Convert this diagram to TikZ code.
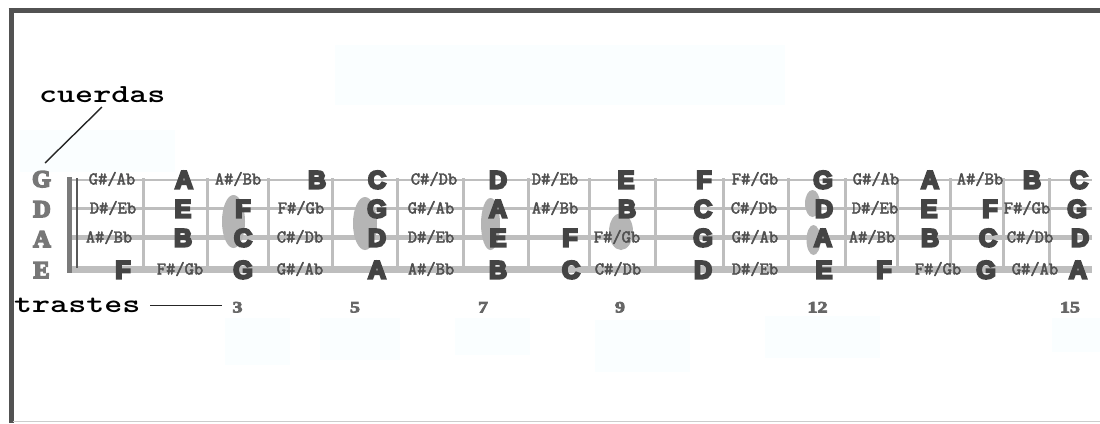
\documentclass[tikz,border=0pt]{standalone}
\usepackage{fontspec}
\newfontfamily\notefont{Liberation Sans}[FakeBold=9]
\newfontfamily\labfont{Liberation Serif}[FakeBold=7]
\newfontfamily\numfont{Liberation Serif}[FakeBold=4]
\newfontfamily\smallfont{lmmono12-regular}[Extension=.otf, FakeBold=2.5]
\definecolor{framec}{HTML}{525252}
\definecolor{linec}{HTML}{BEBEBE}
\definecolor{notec}{HTML}{444444}
\definecolor{smallc}{HTML}{505050}
\definecolor{labc}{HTML}{777777}
\definecolor{numc}{HTML}{666666}
\definecolor{ovalc}{HTML}{B5B5B5}
\definecolor{ghostc}{HTML}{FAFEFF}
\definecolor{nutc}{HTML}{7A7A7A}
\begin{document}
\begin{tikzpicture}[x=1pt,y=-1pt,
  bignote/.style={font=\notefont\bfseries\fontsize{25}{25}\selectfont, text=notec, inner sep=0pt, anchor=base},
  smallnote/.style={font=\smallfont\fontsize{18}{18}\selectfont, text=smallc, inner sep=0pt, anchor=base},
  strlabel/.style={font=\labfont\bfseries\fontsize{24}{24}\selectfont, text=labc, inner sep=0pt, anchor=base},
  fretnum/.style={font=\numfont\bfseries\fontsize{16}{16}\selectfont, text=numc, inner sep=0pt, anchor=base},
  callout/.style={font=\ttfamily\bfseries\fontsize{26}{26}\selectfont, text=black, inner sep=0pt, anchor=base west},
  fretline/.style={draw=linec, line width=3pt},
  ghost/.style={fill=ghostc},
  leader/.style={draw=black!85, line width=1.4pt},
  marker/.style={fill=ovalc}
]
\useasboundingbox (0,0) rectangle (1100,423);
\fill[white] (0,0) rectangle (1100,423);
% faint background patches
\fill[ghost] (335,45) rectangle (785,105);
\fill[ghost] (20,130) rectangle (175,172);
\fill[ghost] (225,318) rectangle (290,365);
\fill[ghost] (320,318) rectangle (400,360);
\fill[ghost] (455,318) rectangle (530,355);
\fill[ghost] (595,320) rectangle (690,372);
\fill[ghost] (765,316) rectangle (880,358);
\fill[ghost] (1052,318) rectangle (1100,352);
% frame
\draw[framec, line width=4.5pt] (8.5,10.5) -- (1100,10.5);
\draw[framec, line width=5pt] (11,8.5) -- (11,423);
\draw[black!20, line width=1pt] (13,421.5) -- (1100,421.5);
% frets
\foreach \fx in {143,207,268,332,397,463,528,589,655,723,788,845,897,950,1003,1049}
  \draw[fretline] (\fx,178) -- (\fx,271);
% strings
\draw[linec, line width=2pt] (70,179.5) -- (1092,179.5);
\draw[linec, line width=3pt] (70,208.5) -- (1092,208.5);
\draw[linec, line width=5pt] (70,237.5) -- (1092,237.5);
\draw[linec, line width=6.5pt] (70,269.5) -- (1092,269.5);
% nut
\fill[nutc] (67,177) rectangle (72,273);
\draw[black!65, line width=1.5pt] (77,178) -- (77,268);
% position markers
\fill[marker] (233.5,221.5) ellipse [x radius=11.5pt, y radius=26.5pt];
\fill[marker] (365,223.5) ellipse [x radius=12pt, y radius=26.5pt];
\fill[marker] (490.5,224) ellipse [x radius=9.5pt, y radius=26pt];
\fill[marker] (621,231.5) ellipse [x radius=12pt, y radius=18.5pt];
\fill[marker] (812.5,203.5) ellipse [x radius=7.5pt, y radius=13.5pt];
\fill[marker] (813.5,240) ellipse [x radius=7pt, y radius=15pt];
% string names
\node[strlabel] (lG) at (41.5,187) {G};
\node[strlabel] (lD) at (42,217) {D};
\node[strlabel] (lA) at (42,247) {A};
\node[strlabel] (lE) at (41.5,278) {E};
% natural notes
\foreach \nx/\ny/\t [count=\i] in {
  123/269/F,
  184/179/A, 183/208/E, 183/237/B,
  243/208/F, 243/237/C, 243/269/G,
  317/179/B,
  377/179/C, 377/208/G, 377/237/D, 377/269/A,
  498/179/D, 498/208/A, 498/237/E, 498/269/B,
  570/237/F, 571/269/C,
  626/179/E, 627/208/B,
  704/179/F, 703/208/C, 703/237/G, 703/269/D,
  823/179/G, 824/208/D, 823/237/A, 824/269/E,
  884/269/F,
  930/179/A, 929/208/E, 930/237/B,
  990/208/F, 988/237/C, 986/269/G,
  1032/179/B,
  1079/179/C, 1077/208/G, 1080/237/D, 1078/269/A}
  \node[bignote] (b\i) at (\nx,\ny+9.5) {\t};
% sharps / flats
\foreach \nx/\ny/\t [count=\i] in {
  112/179/{G\#/Ab}, 113/208/{D\#/Eb}, 109/237/{A\#/Bb},
  180/269/{F\#/Gb},
  238/179/{A\#/Bb},
  301/208/{F\#/Gb}, 300/237/{C\#/Db}, 300/269/{G\#/Ab},
  434/179/{C\#/Db}, 431/208/{G\#/Ab}, 431/237/{D\#/Eb}, 431/269/{A\#/Bb},
  555/179/{D\#/Eb}, 555/208/{A\#/Bb},
  617/237/{F\#/Gb}, 618/269/{C\#/Db},
  755/179/{F\#/Gb}, 754/208/{C\#/Db}, 755/237/{G\#/Ab}, 755/269/{D\#/Eb},
  876/179/{G\#/Ab}, 875/208/{D\#/Eb}, 872/237/{A\#/Bb},
  938/269/{F\#/Gb},
  980/179/{A\#/Bb},
  1027/208/{F\#/Gb}, 1030/237/{C\#/Db}, 1035/269/{G\#/Ab}}
  \node[smallnote] (s\i) at (\nx,\ny+5.5) {\t};
% fret numbers
\node[fretnum] (n3) at (237.5,312.5) {\scalebox{1.25}[1]{3}};
\node[fretnum] (n5) at (355,312.5) {\scalebox{1.25}[1]{5}};
\node[fretnum] (n7) at (483,312.5) {\scalebox{1.25}[1]{7}};
\node[fretnum] (n9) at (620,312.5) {\scalebox{1.25}[1]{9}};
\node[fretnum] (n12) at (817.5,312.5) {\scalebox{1.25}[1]{12}};
\node[fretnum] (n15) at (1070,312.5) {\scalebox{1.25}[1]{15}};
% callouts
\node[callout] (cuerdas) at (39,102) {\scalebox{1.32}[1]{cuerdas}};
\node[callout] (trastes) at (14,312) {\scalebox{1.32}[1]{trastes}};
\coordinate (cu1) at (102,107);
\coordinate (cu2) at (45,163);
\draw[leader] (cu1) -- (cu2);
\coordinate (tr1) at (150,305.5);
\coordinate (tr2) at (222,305.5);
\draw[leader] (tr1) -- (tr2);
\end{tikzpicture}
\end{document}
